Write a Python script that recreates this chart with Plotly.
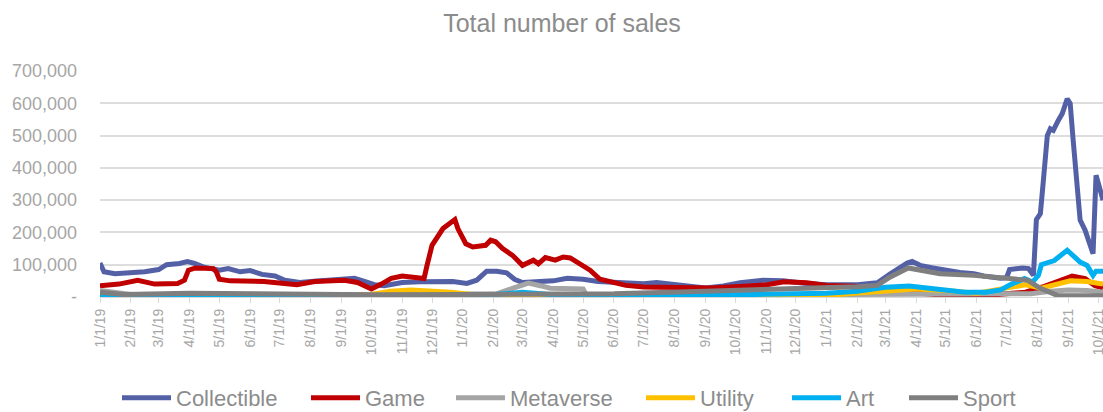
import plotly.graph_objects as go

# ---------------- data ----------------
series_names = ["Collectible", "Game", "Metaverse", "Utility", "Art", "Sport"]
series_colors = ["#5460A6", "#C00000", "#A5A5A5", "#FFC000", "#00B0F0", "#7F7F7F"]

collectible_dates = ["2019-01-01","2019-01-05","2019-01-16","2019-02-01","2019-02-15","2019-03-01","2019-03-09","2019-03-22","2019-03-30","2019-04-06",
                     "2019-04-16","2019-05-01","2019-05-10","2019-05-22","2019-06-01","2019-06-13","2019-06-26","2019-07-06","2019-07-21","2019-08-01",
                     "2019-08-20","2019-09-01","2019-09-14","2019-09-24","2019-10-04","2019-10-14","2019-11-01","2019-11-19","2019-12-01","2019-12-22",
                     "2020-01-05","2020-01-15","2020-01-25","2020-02-04","2020-02-14","2020-02-22","2020-03-01","2020-03-19","2020-04-01","2020-04-15",
                     "2020-05-01","2020-05-16","2020-06-01","2020-06-17","2020-07-01","2020-07-14","2020-08-01","2020-08-16","2020-09-01","2020-09-19",
                     "2020-10-06","2020-10-29","2020-11-18","2020-12-12",
                     "2021-01-01","2021-02-01","2021-02-21","2021-03-06","2021-03-23","2021-03-28",
                     "2021-04-05","2021-04-18","2021-05-02","2021-05-15","2021-05-29","2021-06-08","2021-06-25","2021-07-01","2021-07-04","2021-07-17",
                     "2021-07-23","2021-07-28","2021-07-31","2021-08-04","2021-08-07","2021-08-11","2021-08-14","2021-08-17","2021-08-22","2021-08-26",
                     "2021-08-31","2021-09-03","2021-09-06","2021-09-10","2021-09-13","2021-09-18","2021-09-23","2021-09-26","2021-09-29","2021-10-03",
                     "2021-10-06"]
collectible_values = [105000,78000,72000,75000,78000,85000,100000,104000,110000,104000,
                      92000,83000,88000,78000,82000,70000,65000,52000,45000,48000,
                      52000,55000,58000,48000,38000,35000,45000,47000,47000,48000,
                      42000,52000,80000,80000,75000,55000,45000,47000,50000,58000,
                      55000,48000,45000,42000,41000,45000,38000,31000,28000,34000,
                      44000,52000,50000,42000,
                      38000,38000,44000,72000,105000,110000,
                      98000,90000,82000,76000,72000,65000,58000,60000,85000,90000,
                      88000,67000,240000,258000,360000,500000,521000,516000,547000,568000,
                      614000,599000,485000,361000,238000,207000,165000,134000,377000,330000,
                      300000]

game_dates = ["2019-01-01","2019-01-20","2019-02-08","2019-02-25","2019-03-20","2019-03-27","2019-03-31","2019-04-07","2019-04-25","2019-04-28",
              "2019-05-01","2019-05-12","2019-06-15","2019-07-01","2019-07-18","2019-08-05","2019-09-04","2019-09-17","2019-10-01","2019-10-11",
              "2019-10-21","2019-11-01","2019-11-14","2019-11-23","2019-11-26","2019-12-01","2019-12-12","2019-12-24","2019-12-27",
              "2020-01-04","2020-01-11","2020-01-24","2020-01-29","2020-02-03","2020-02-10","2020-02-20","2020-03-01","2020-03-12","2020-03-17",
              "2020-03-24","2020-04-03","2020-04-11","2020-04-18","2020-04-28","2020-05-08","2020-05-18","2020-05-31","2020-06-13","2020-07-01",
              "2020-08-03","2020-09-07","2020-10-10","2020-11-02","2020-11-19","2020-12-12",
              "2021-01-01","2021-01-28","2021-02-10","2021-03-01","2021-04-01","2021-05-01","2021-06-01","2021-07-01","2021-07-20","2021-08-06",
              "2021-08-23","2021-09-05","2021-09-18","2021-09-28","2021-10-06"]
game_values = [35000,40000,52000,40000,42000,52000,83000,90000,88000,78000,
               55000,50000,48000,45000,38000,48000,52000,45000,25000,40000,
               58000,65000,60000,57000,98000,160000,212000,240000,212000,
               165000,155000,160000,176000,171000,150000,129000,98000,114000,103000,
               122000,114000,124000,121000,103000,83000,55000,44000,36000,31000,
               28000,28000,33000,38000,47000,44000,
               36000,33000,25000,20000,12000,5000,2000,8000,15000,31000,
               52000,65000,57000,35000,28000]

metaverse_dates = ["2019-01-01","2019-01-20","2019-02-05","2019-06-01","2019-10-01","2020-01-15","2020-02-04","2020-02-23","2020-03-07","2020-03-19",
                   "2020-03-29","2020-05-01","2020-05-04","2020-09-01","2021-01-01","2021-04-01","2021-07-01","2021-07-25","2021-08-15","2021-09-01",
                   "2021-09-20","2021-10-06"]
metaverse_values = [20000,12000,6000,6000,8000,8000,10000,30000,43000,35000,
                    27000,25000,8000,6000,8000,8000,10000,10000,18000,22000,
                    20000,15000]

utility_dates = ["2019-01-01","2019-06-01","2019-09-01","2019-10-01","2019-10-20","2019-11-10","2019-12-01","2019-12-20","2020-01-10","2020-02-01",
                 "2020-10-01","2020-12-01","2021-01-01","2021-02-01","2021-03-01","2021-04-01","2021-05-01","2021-06-01","2021-06-20","2021-07-10",
                 "2021-07-20","2021-08-05","2021-08-20","2021-09-03","2021-09-20","2021-10-06"]
utility_values = [2000,3000,5000,8000,18000,22000,20000,15000,8000,3000,
                  2000,3000,5000,12000,18000,25000,20000,12000,22000,35000,
                  38000,27000,38000,50000,48000,40000]

art_dates = ["2019-01-01","2019-04-01","2019-08-01","2020-01-15","2020-02-10","2020-03-01","2020-03-20","2020-04-10","2020-08-01","2020-10-01",
             "2020-12-01","2021-01-01","2021-02-01","2021-03-01","2021-03-25","2021-04-20","2021-05-20","2021-06-10","2021-06-25","2021-07-06",
             "2021-07-19","2021-07-27","2021-08-02","2021-08-05","2021-08-18","2021-08-31","2021-09-06","2021-09-13","2021-09-20","2021-09-26",
             "2021-09-29","2021-10-06"]
art_values = [1000,3000,2000,3000,8000,15000,10000,4000,3000,6000,
              10000,12000,18000,30000,34000,25000,15000,15000,22000,40000,
              57000,46000,67000,100000,113000,145000,129000,108000,98000,67000,
              80000,80000]

sport_dates = ["2019-01-01","2019-01-25","2019-04-01","2019-07-01","2019-10-01","2020-01-01","2020-06-01","2020-09-01","2020-12-01","2021-01-01",
               "2021-02-01","2021-02-21","2021-03-06","2021-03-24","2021-04-08","2021-04-25","2021-05-29","2021-07-01","2021-07-22","2021-08-04",
               "2021-08-21","2021-10-06"]
sport_values = [15000,8000,12000,8000,7000,8000,10000,18000,25000,28000,
                32000,36000,62000,90000,80000,72000,67000,57000,52000,27000,
                5000,4000]

y_tick_values = [0, 100000, 200000, 300000, 400000, 500000, 600000, 700000]
y_tick_labels = ["-", "100,000", "200,000", "300,000", "400,000", "500,000", "600,000", "700,000"]

chart_title = "Total number of sales"

# ---------------- figure ----------------
all_dates = [collectible_dates, game_dates, metaverse_dates, utility_dates, art_dates, sport_dates]
all_values = [collectible_values, game_values, metaverse_values, utility_values, art_values, sport_values]
legend_widths = [125, 81, 126, 82, 53, 60]

FONT = "Liberation Sans, Arial, sans-serif"

fig = go.Figure()
for name, color, xs, ys, lw in zip(series_names, series_colors, all_dates, all_values, legend_widths):
    fig.add_trace(go.Scatter(
        x=xs, y=ys, name=name, mode="lines",
        line=dict(color=color, width=5, shape="linear"),
        legendwidth=lw,
    ))

fig.update_layout(
    width=1103, height=412,
    paper_bgcolor="white", plot_bgcolor="white",
    margin=dict(l=100, r=0, t=71, b=115, autoexpand=False),
    font=dict(family=FONT, color="#999999"),
    title=dict(text=chart_title, x=562/1103, xanchor="center", y=1 - 23/412, yanchor="middle",
               font=dict(size=25, color="#8C8C8C", family=FONT)),
    showlegend=True,
    legend=dict(orientation="h", xref="container", yref="container",
                x=117/1103, xanchor="left", y=14/412, yanchor="middle",
                font=dict(size=22, color="#8C8C8C", family=FONT),
                itemwidth=49, bgcolor="rgba(0,0,0,0)", tracegroupgap=0),
)

fig.update_xaxes(
    type="date", range=["2019-01-01", "2021-10-06"], automargin=False,
    tickformat="%-m/%-d/%y", dtick="M1", tick0="2019-01-01", tickangle=-90,
    ticklabeloverflow="allow",
    tickfont=dict(size=14, color="#A6A6A6", family=FONT),
    showgrid=False, showline=True, linecolor="#D9D9D9", linewidth=1,
    ticks="outside", ticklen=5, tickcolor="#D9D9D9", tickwidth=1,
    zeroline=False,
)
fig.update_yaxes(
    range=[0, 700000], tickvals=y_tick_values, ticktext=y_tick_labels, automargin=False,
    tickfont=dict(size=18, color="#A6A6A6", family=FONT),
    showgrid=True, gridcolor="#DDDDDD", gridwidth=1.5,
    showline=False, zeroline=False, ticks="", ticklabelstandoff=22,
)

fig.write_html("out.html", config={"displayModeBar": False},
               post_script="document.body.style.margin='0px';")
